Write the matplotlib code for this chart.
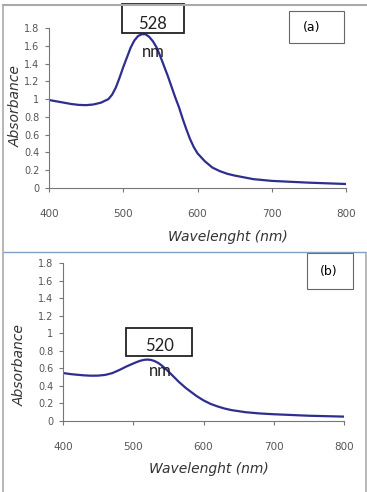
import matplotlib.pyplot as plt
from matplotlib.patches import Rectangle
from matplotlib.lines import Line2D

# Spectrum (a)
wl_a = [400, 410, 420, 430, 440, 450, 460, 470, 475, 480, 485, 490, 495, 500,
        505, 510, 515, 520, 525, 530, 535, 540, 545, 550, 555, 560, 565, 570,
        575, 580, 585, 590, 595, 600, 610, 620, 630, 640, 650, 675, 700, 750, 800]
abs_a = [0.99, 0.975, 0.96, 0.945, 0.935, 0.932, 0.94, 0.96, 0.98, 1.00, 1.05,
         1.13, 1.24, 1.36, 1.47, 1.58, 1.66, 1.71, 1.73, 1.73, 1.70, 1.65, 1.58,
         1.48, 1.37, 1.26, 1.14, 1.02, 0.91, 0.78, 0.66, 0.55, 0.46, 0.39, 0.30,
         0.23, 0.19, 0.16, 0.14, 0.10, 0.08, 0.06, 0.045]

# Spectrum (b)
wl_b = [400, 410, 420, 430, 440, 450, 460, 470, 480, 490, 500, 505, 510, 515,
        520, 525, 530, 535, 540, 545, 550, 555, 560, 565, 570, 575, 580, 590,
        600, 610, 620, 630, 640, 660, 680, 700, 750, 800]
abs_b = [0.547, 0.535, 0.527, 0.52, 0.516, 0.517, 0.525, 0.545, 0.58, 0.62, 0.655,
         0.672, 0.686, 0.696, 0.70, 0.696, 0.684, 0.664, 0.636, 0.602, 0.565,
         0.525, 0.485, 0.445, 0.41, 0.375, 0.345, 0.285, 0.235, 0.195, 0.166,
         0.142, 0.124, 0.10, 0.086, 0.077, 0.06, 0.05]

xticks = [400, 500, 600, 700, 800]
yticks = [0, 0.2, 0.4, 0.6, 0.8, 1, 1.2, 1.4, 1.6, 1.8]
ytick_labels = ["0", "0.2", "0.4", "0.6", "0.8", "1", "1.2", "1.4", "1.6", "1.8"]

W, H = 367, 492
fig = plt.figure(figsize=(W / 100, H / 100), dpi=100)


def fx(px):
    return px / W


def fy(py):
    return 1 - py / H


def panel(rect, wl, ab, xlab_pos, ylab_pos):
    ax = fig.add_axes(rect)
    ax.plot(wl, ab, color="#2e2e8f", lw=1.6, solid_joinstyle="round")
    ax.set_xlim(400, 800)
    ax.set_ylim(0, 1.8)
    ax.set_xticks(xticks)
    ax.set_yticks(yticks)
    ax.set_yticklabels(ytick_labels)
    for s in ["top", "right"]:
        ax.spines[s].set_visible(False)
    for s in ["left", "bottom"]:
        ax.spines[s].set_color("#777777")
        ax.spines[s].set_linewidth(0.8)
    ax.tick_params(axis="y", direction="out", length=3, width=0.8,
                   color="#777777", labelcolor="#555555", labelsize=7, pad=4)
    ax.tick_params(axis="x", direction="out", length=3, width=0.8,
                   color="#777777", labelcolor="#555555", labelsize=7.5, pad=12)
    ax.text(xlab_pos[0], xlab_pos[1], "Wavelenght (nm)", transform=ax.transAxes,
            ha="center", va="center", fontsize=10, style="italic", color="#333333")
    ax.text(ylab_pos[0], ylab_pos[1], "Absorbance", transform=ax.transAxes,
            ha="center", va="center", fontsize=10, style="italic", color="#333333",
            rotation=90)
    return ax


# panel frames
fig.add_artist(Line2D([fx(3), fx(367)], [fy(5), fy(5)], color="#aaaaaa", lw=1.5))
fig.add_artist(Line2D([fx(3), fx(3)], [fy(5), fy(251)], color="#aaaaaa", lw=1.2))
fig.add_artist(Line2D([fx(3), fx(367)], [fy(252), fy(252)], color="#7f9fc4", lw=1.0))
fig.add_artist(Line2D([fx(3), fx(3)], [fy(253), fy(492)], color="#aaaaaa", lw=1.2))
fig.add_artist(Line2D([fx(366), fx(366)], [fy(253), fy(492)], color="#aaaaaa", lw=1.2))

ax_a = panel([fx(49), fy(188), fx(346) - fx(49), fy(28) - fy(188)],
             wl_a, abs_a, (0.601, -0.306), (-0.111, 0.51))
ax_b = panel([fx(63), fy(421), fx(344) - fx(63), fy(263) - fy(421)],
             wl_b, abs_b, (0.52, -0.304), (-0.153, 0.354))


def box(x0, y0, x1, y1, lw=1.0, color="#333333"):
    fig.add_artist(Rectangle((fx(x0), fy(y1)), fx(x1) - fx(x0), fy(y0) - fy(y1),
                             transform=fig.transFigure, fill=False,
                             edgecolor=color, lw=lw))


# (a) / (b) labels
box(289, 11, 344, 43, lw=0.8, color="#666666")
fig.text(fx(312), fy(28), "(a)", ha="center", va="center", fontsize=9)
box(307, 253, 353, 289, lw=0.8, color="#666666")
fig.text(fx(329), fy(271), "(b)", ha="center", va="center", fontsize=9)

# peak annotations
box(122, 4, 184, 33, lw=1.3, color="#222222")
fig.text(fx(153), fy(24), "528", ha="center", va="center", fontsize=12,
         family="Lato", color="#222222")
fig.text(fx(153), fy(52), "nm", ha="center", va="center", fontsize=12,
         family="Lato", color="#222222")

box(126, 328, 192, 356, lw=1.3, color="#222222")
fig.text(fx(160), fy(346), "520", ha="center", va="center", fontsize=12,
         family="Lato", color="#222222")
fig.text(fx(160), fy(371), "nm", ha="center", va="center", fontsize=12,
         family="Lato", color="#222222")

fig.savefig("out.png", dpi=100)
